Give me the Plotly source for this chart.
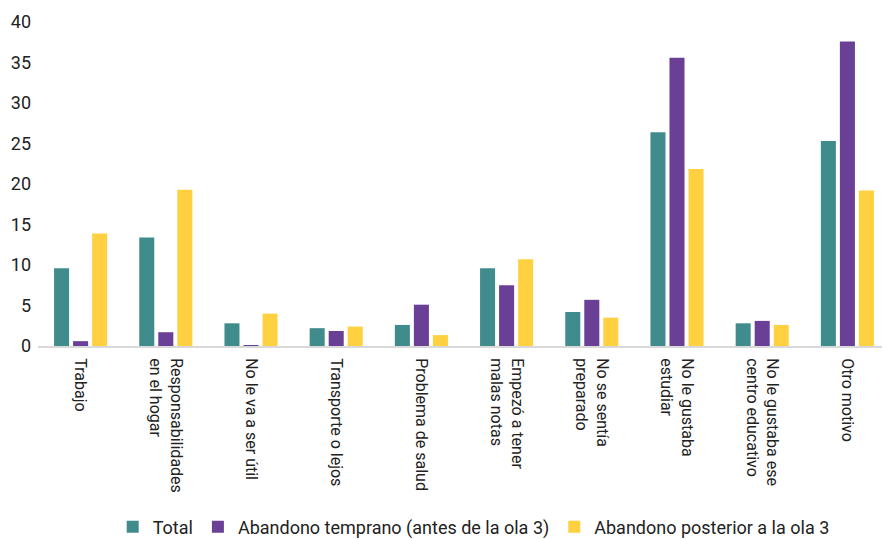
import plotly.graph_objects as go

categories = [
    "Trabajo",
    "Responsabilidades<br>en el hogar",
    "No le va a ser útil",
    "Transporte o lejos",
    "Problema de salud",
    "Empezó a tener<br>malas notas",
    "No se sentía<br>preparado",
    "No le gustaba<br>estudiar",
    "No le gustaba ese<br>centro educativo",
    "Otro motivo",
]
total = [9.6, 13.4, 2.8, 2.2, 2.6, 9.6, 4.2, 26.4, 2.8, 25.3]
temprano = [0.6, 1.7, 0.1, 1.85, 5.1, 7.5, 5.7, 35.6, 3.1, 37.6]
posterior = [13.9, 19.3, 4.0, 2.4, 1.35, 10.7, 3.5, 21.85, 2.6, 19.2]

series = [
    ("Total", total, "#408C8C"),
    ("Abandono temprano (antes de la ola 3)", temprano, "#6A3F96"),
    ("Abandono posterior a la ola 3", posterior, "#FFD141"),
]

FONT = "Roboto, sans-serif"

fig = go.Figure()
for name, vals, color in series:
    fig.add_trace(go.Bar(x=categories, y=vals, name=name,
                         marker=dict(color=color, line=dict(width=0))))

# page body has an 8px default margin; figure is sized to compensate
fig.update_layout(
    width=882, height=531,
    margin=dict(l=30, r=0, t=14, b=193, autoexpand=False),
    paper_bgcolor="white", plot_bgcolor="white",
    barmode="group", bargap=0.33, bargroupgap=0.21,
    font=dict(family=FONT, size=16, color="#222222"),
    showlegend=True,
    legend=dict(orientation="h", xref="container", yref="container",
                x=0.528, y=0.0226, xanchor="center", yanchor="middle",
                font=dict(size=18, family=FONT), itemwidth=30,
                traceorder="normal"),
)
fig.update_xaxes(
    tickangle=90, showline=True, linecolor="#D9D9D9", linewidth=2,
    ticks="", showgrid=False, tickfont=dict(size=16, family=FONT),
    automargin=False, ticklabelstandoff=7,
)
fig.update_yaxes(
    range=[0, 40], dtick=5, showgrid=False, zeroline=False, showline=False,
    ticks="", tickfont=dict(size=18, family=FONT), automargin=False,
    ticklabelstandoff=6,
)

fig.write_html("out.html")
